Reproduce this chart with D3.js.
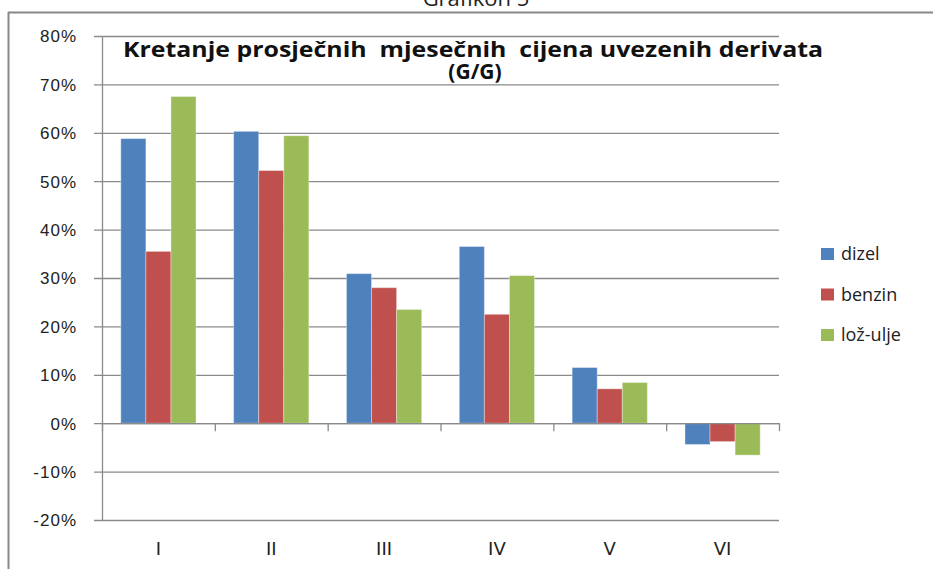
<!DOCTYPE html>
<html>
<head>
<meta charset="utf-8">
<script src="https://cdn.jsdelivr.net/npm/d3@7"></script>
<style>
  body { margin: 0; background: #fff; }
  svg { display: block; font-family: 'DejaVu Sans', sans-serif; }
  .tick-label { font-size: 17px; fill: #222; letter-spacing: 1px; }
  .cat-label { font-size: 18px; fill: #222; }
  .legend-label { font-family: 'Open Sans', sans-serif; font-size: 18px; fill: #222; }
  .chart-title { font-family: 'Open Sans', sans-serif; font-weight: bold; font-size: 21px; fill: #111; }
</style>
</head>
<body>
<svg width="933" height="569"></svg>
<script>
// months (roman numerals) and yoy change of import prices
const months = ['I', 'II', 'III', 'IV', 'V', 'VI'];
const seriesNames = ['dizel', 'benzin', 'lož-ulje'];
const dizel = [0.588, 0.603, 0.309, 0.365, 0.115, -0.044];
const benzin = [0.355, 0.522, 0.280, 0.225, 0.071, -0.038];
const lozUlje = [0.675, 0.594, 0.235, 0.305, 0.084, -0.066];
const yTicks = [-0.2, -0.1, 0, 0.1, 0.2, 0.3, 0.4, 0.5, 0.6, 0.7, 0.8];
const colors = ['#4F81BD', '#C0504D', '#9BBB59'];

const seriesValues = [dizel, benzin, lozUlje];

const svg = d3.select('svg');
const margin = { top: 36, left: 102, right: 154, bottom: 49 };
const width = +svg.attr('width');
const height = +svg.attr('height');
const innerWidth = width - margin.left - margin.right;
const innerHeight = height - margin.top - margin.bottom;

// frame lines and the cut-off caption above it
svg.append('text')
    .attr('x', 476).attr('y', 6)
    .attr('text-anchor', 'middle')
    .style('font-family', 'Open Sans, sans-serif')
    .style('font-size', '22px')
    .attr('fill', '#222')
    .text('Grafikon 5');
svg.append('line').attr('x1', 8).attr('x2', width).attr('y1', 12.5).attr('y2', 12.5)
    .attr('stroke', '#888').attr('stroke-width', 2);
svg.append('line').attr('x1', 8.5).attr('x2', 8.5).attr('y1', 12).attr('y2', height)
    .attr('stroke', '#888').attr('stroke-width', 2);

const g = svg.append('g').attr('transform', `translate(${margin.left}, ${margin.top})`);

const yScale = d3.scaleLinear().domain([-0.2, 0.8]).range([innerHeight, 0]);
const xScale = d3.scaleBand().domain(months).range([0, innerWidth]).padding(0);
const xInner = d3.scaleBand().domain(seriesNames).range([0, xScale.bandwidth()])
    .paddingInner(0).paddingOuter(0.75);

// gridlines (they start at the outer tick mark)
const grid = g.append('g').attr('transform', 'translate(-8, 0)')
    .call(d3.axisRight(yScale).tickValues(yTicks).tickSize(innerWidth + 8).tickFormat(''));
grid.select('.domain').remove();
grid.selectAll('line').attr('stroke', '#8a8a8a').attr('stroke-width', 1.3);

// y axis line + labels (plain hyphen for negatives, like the original)
const pct = v => d3.format('.0%')(v).replace('−', '-');
const yAxis = g.append('g')
    .call(d3.axisLeft(yScale).tickValues(yTicks).tickSize(0).tickSizeOuter(0)
        .tickPadding(25).tickFormat(pct));
yAxis.select('.domain').attr('stroke', '#8a8a8a').attr('stroke-width', 1.3);
yAxis.selectAll('text').attr('class', 'tick-label').attr('dy', '0.35em');

// bars
const groups = g.selectAll('.month').data(months)
    .enter().append('g')
    .attr('class', 'month')
    .attr('transform', d => `translate(${xScale(d)}, 0)`);

groups.selectAll('rect')
    .data((m, i) => seriesNames.map((s, j) => ({ s, v: seriesValues[j][i], c: colors[j] })))
    .enter().append('rect')
    .attr('x', d => xInner(d.s))
    .attr('width', xInner.bandwidth())
    .attr('y', d => yScale(Math.max(0, d.v)))
    .attr('height', d => Math.abs(yScale(d.v) - yScale(0)))
    .attr('fill', d => d.c)
    .attr('stroke', '#fff')
    .attr('stroke-opacity', 0.35)
    .attr('stroke-width', 1);

// category axis on the zero line, ticks between months
const catTicks = d3.scaleLinear().domain([0, months.length]).range([0, innerWidth]);
const xAxis = g.append('g').attr('transform', `translate(0, ${yScale(0)})`)
    .call(d3.axisBottom(catTicks).ticks(months.length).tickSize(8).tickSizeOuter(0).tickFormat(''));
xAxis.selectAll('line').attr('stroke', '#8a8a8a').attr('stroke-width', 1.3);
xAxis.select('.domain').attr('stroke', '#8a8a8a').attr('stroke-width', 1.3);

g.selectAll('.cat-label').data(months)
    .enter().append('text')
    .attr('class', 'cat-label')
    .attr('x', d => xScale(d) + xScale.bandwidth() / 2)
    .attr('y', 555 - margin.top)
    .attr('text-anchor', 'middle')
    .text(d => d);

// title (two lines)
g.append('text')
    .attr('class', 'chart-title')
    .attr('x', 123 - margin.left).attr('y', 57 - margin.top)
    .attr('textLength', 700).attr('lengthAdjust', 'spacingAndGlyphs')
    .attr('xml:space', 'preserve')
    .text('Kretanje prosječnih  mjesečnih  cijena uvezenih derivata');
g.append('text')
    .attr('class', 'chart-title')
    .attr('x', 475 - margin.left).attr('y', 79 - margin.top)
    .attr('text-anchor', 'middle')
    .text('(G/G)');

// legend
const legend = svg.append('g').attr('transform', 'translate(821, 254)');
const item = legend.selectAll('g').data(seriesNames)
    .enter().append('g')
    .attr('transform', (d, i) => `translate(0, ${i * 40.5})`);
item.append('rect')
    .attr('x', 0).attr('y', -6).attr('width', 13).attr('height', 12)
    .attr('fill', (d, i) => colors[i]);
item.append('text')
    .attr('class', 'legend-label')
    .attr('x', 20).attr('dy', '0.35em')
    .text(d => d);
</script>
</body>
</html>
